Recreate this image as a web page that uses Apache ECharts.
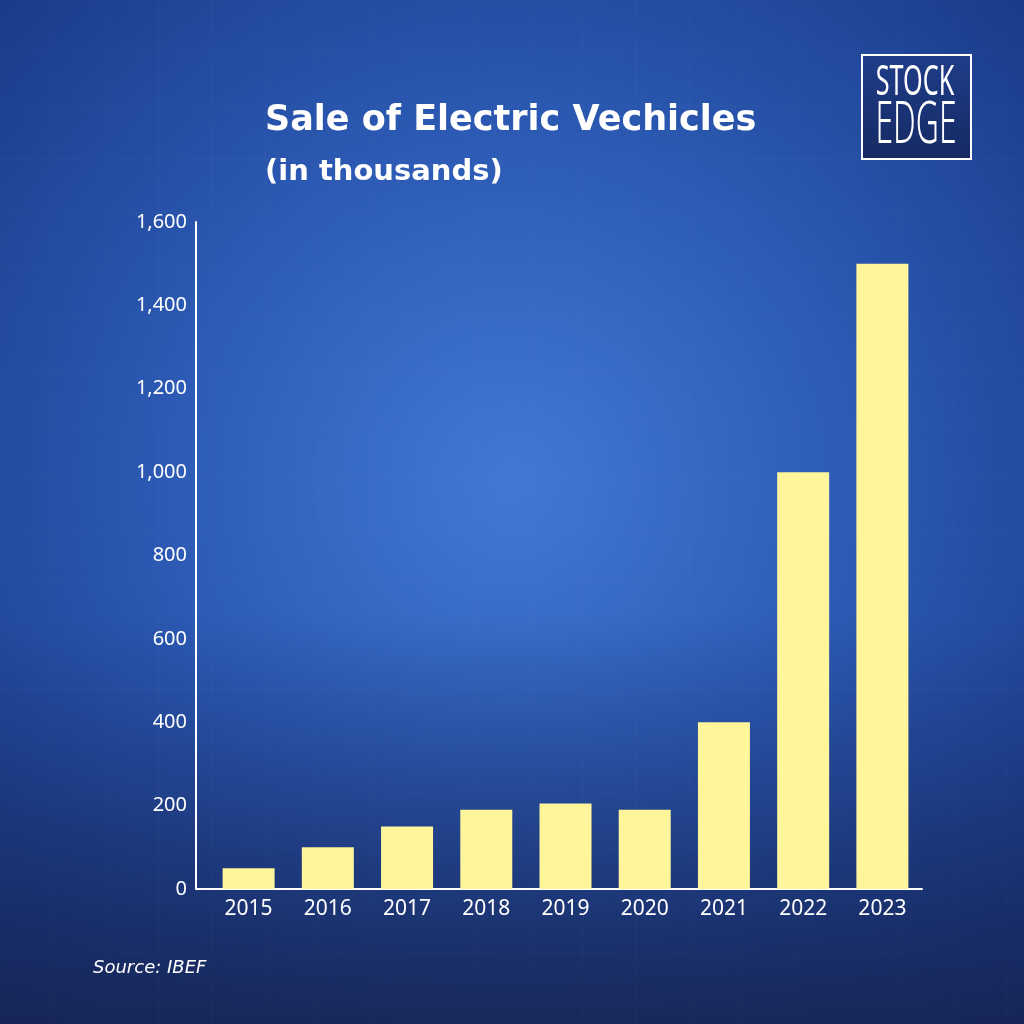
<!DOCTYPE html>
<html>
<head>
<meta charset="utf-8">
<script src="https://cdn.jsdelivr.net/npm/echarts@6/dist/echarts.min.js"></script>
<style>html,body{margin:0;padding:0;background:#1d3b86}#c{width:1024px;height:1024px}</style>
</head>
<body>
<div id="c"></div>
<script>
const years = ['2015','2016','2017','2018','2019','2020','2021','2022','2023'];
const sales = [50, 100, 150, 190, 205, 190, 400, 1000, 1500];
const yTicks = [0, 200, 400, 600, 800, 1000, 1200, 1400, 1600];
const titleText = 'Sale of Electric Vechicles';
const subtitleText = '(in thousands)';
const sourceText = 'Source: IBEF';

const chart = echarts.init(document.getElementById('c'), null, {renderer: 'canvas'});

const gridLines = [];
for (let i = 0; i <= 20; i++) {
  gridLines.push({type:'line', silent:true, z:-9, shape:{x1:i*53, y1:0, x2:i*53, y2:1024}, style:{stroke:'rgba(255,255,255,0.025)', lineWidth:1}});
  gridLines.push({type:'line', silent:true, z:-9, shape:{x1:0, y1:i*53, x2:1024, y2:i*53}, style:{stroke:'rgba(255,255,255,0.025)', lineWidth:1}});
}

chart.setOption({
  backgroundColor: {
    type: 'radial', x: 0.5, y: 0.47, r: 0.75,
    colorStops: [
      {offset: 0, color: '#4279d6'},
      {offset: 0.45, color: '#2c5ab4'},
      {offset: 1, color: '#163580'}
    ]
  },
  textStyle: {fontFamily: 'Noto Sans, sans-serif'},
  grid: {left: 209, right: 102, top: 222, bottom: 1024 - 889},
  xAxis: {
    type: 'category',
    data: years,
    axisLine: {lineStyle: {color: '#ffffff', width: 2}},
    axisTick: {show: false},
    axisLabel: {color: '#ffffff', fontSize: 21, margin: 10, fontFamily: 'Noto Sans'}
  },
  yAxis: {
    type: 'value',
    min: 0, max: 1600, interval: 200,
    offset: 13,
    axisLine: {show: true, lineStyle: {color: '#ffffff', width: 2}},
    axisTick: {show: false},
    splitLine: {show: false},
    axisLabel: {
      color: '#ffffff', fontSize: 20, margin: 9, fontFamily: 'Noto Sans',
      formatter: v => yTicks.includes(v) ? v.toLocaleString('en-US') : ''
    }
  },
  series: [{
    type: 'bar',
    data: sales,
    barWidth: 52,
    itemStyle: {color: '#fff59b'}
  }],
  graphic: [
    {type:'rect', silent:true, z:-10, shape:{x:0,y:0,width:1024,height:1024},
     style:{fill:{type:'linear',x:0,y:0,x2:0,y2:1,colorStops:[
       {offset:0,color:'rgba(20,40,100,0)'},
       {offset:0.6,color:'rgba(20,40,100,0)'},
       {offset:1,color:'rgba(22,34,78,0.85)'}]}}},
    ...gridLines,
    {type:'line', silent:true, shape:{x1:196, y1:889, x2:210, y2:889}, style:{stroke:'#ffffff', lineWidth:2}},
    {type:'text', left: 265, top: 103, style:{text: titleText, fill:'#ffffff', font:'bold 35px "DejaVu Sans", sans-serif'}},
    {type:'text', left: 265, top: 158, style:{text: subtitleText, fill:'#ffffff', font:'bold 29px "DejaVu Sans", sans-serif'}},
    {type:'text', left: 93, top: 959, style:{text: sourceText, fill:'#ffffff', font:'oblique 18px "DejaVu Sans", sans-serif'}},
    {type:'rect', left: 861, top: 54, shape:{width:109, height:104},
     style:{fill:{type:'linear',x:0,y:0,x2:0,y2:1,colorStops:[{offset:0,color:'#1f3d8a'},{offset:1,color:'#152a62'}]}, stroke:'#ffffff', lineWidth:2}},
    {type:'text', x: 915, y: 83, scaleX: 0.6, style:{text:'STOCK', fill:'#ffffff', font:'400 42px "Noto Sans", sans-serif', textAlign:'center', textVerticalAlign:'middle'}},
    {type:'text', x: 916, y: 126, scaleX: 0.55, style:{text:'EDGE', fill:'#ffffff', font:'300 58px "Noto Sans", sans-serif', textAlign:'center', textVerticalAlign:'middle'}}
  ]
});
</script>
</body>
</html>
